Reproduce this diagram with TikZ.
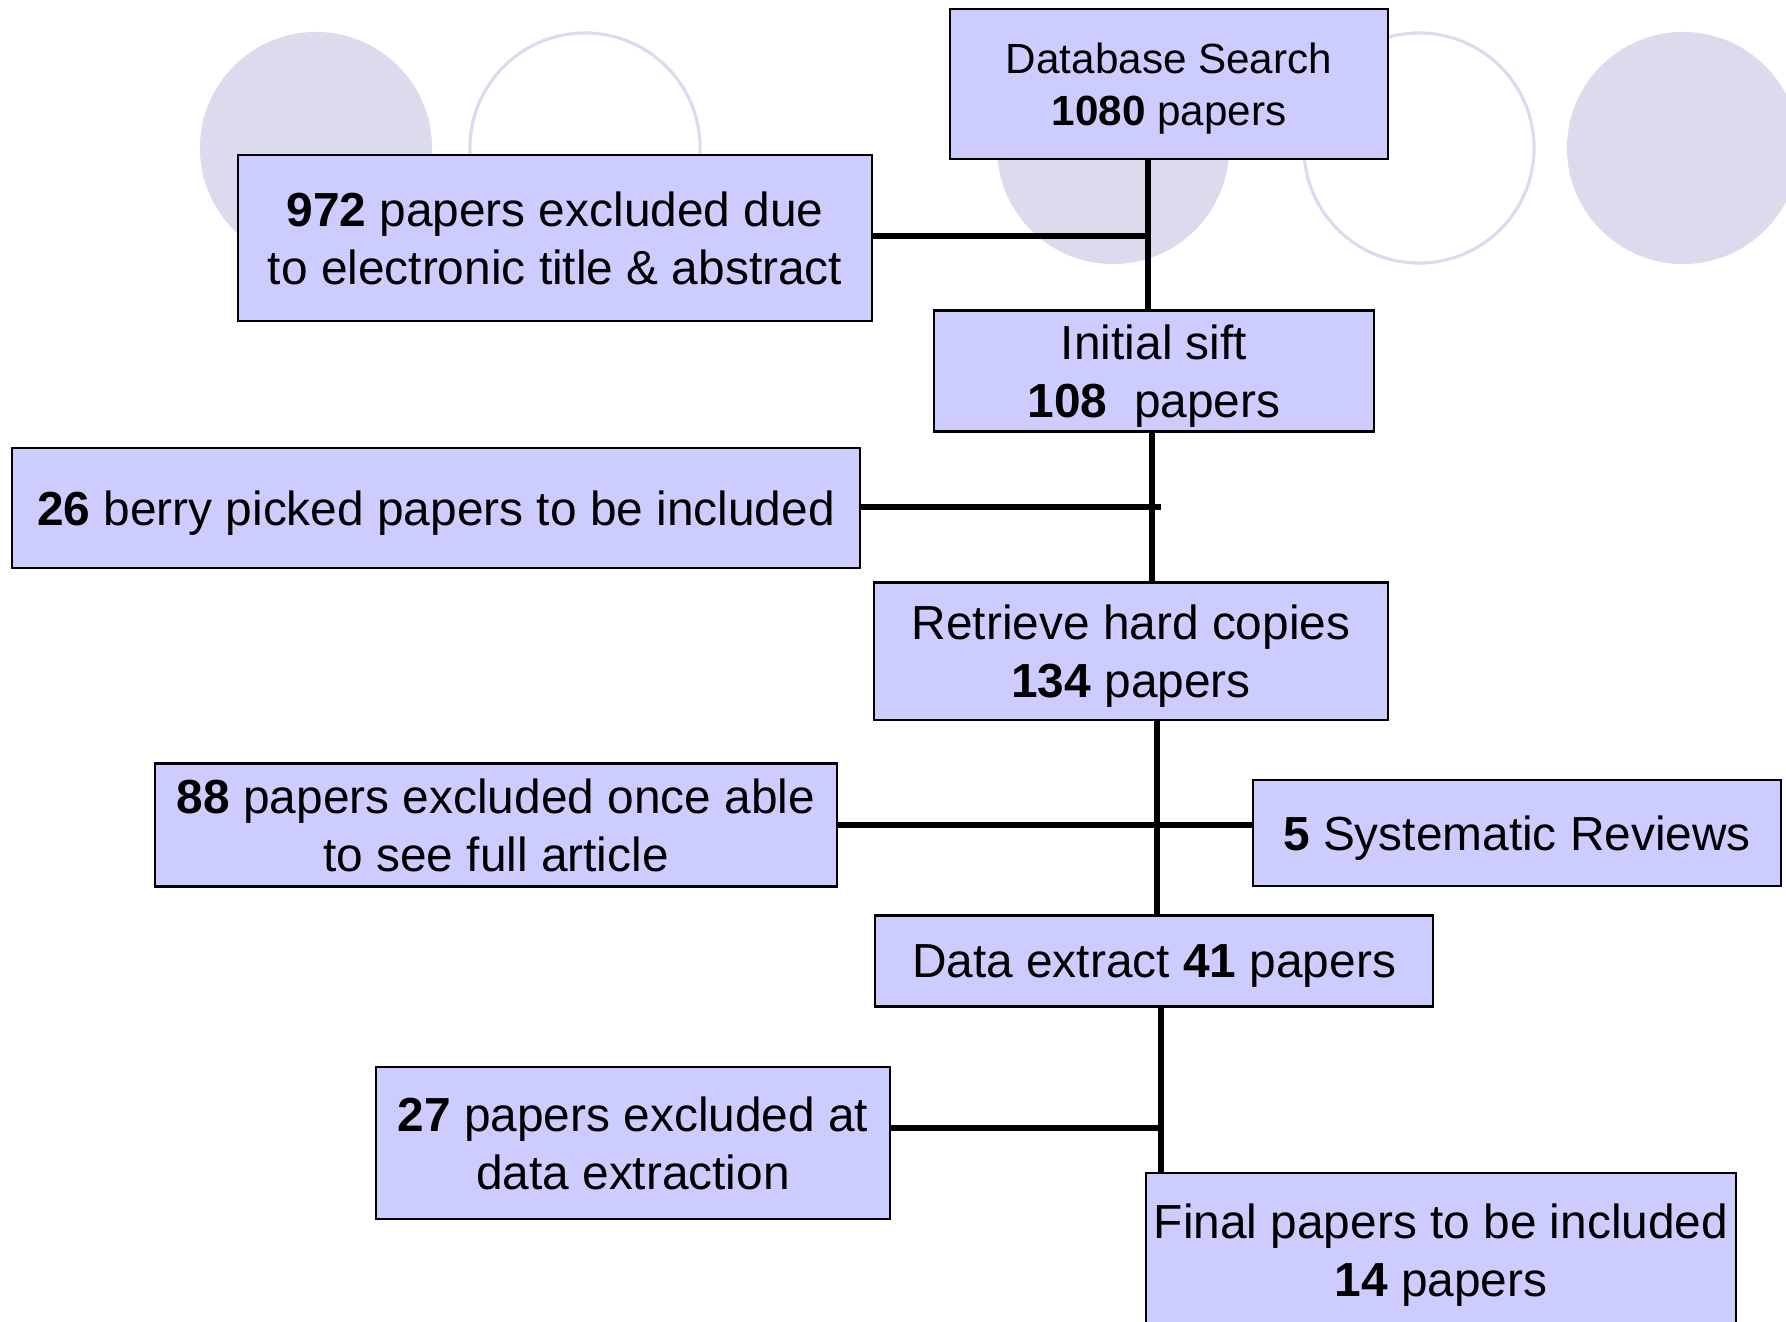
\documentclass[tikz,border=0pt]{standalone}
\usepackage{fontspec}
\setmainfont{Liberation Sans}
\definecolor{boxfill}{RGB}{204,204,255}
\definecolor{ringcol}{RGB}{220,218,237}

\begin{document}
\begin{tikzpicture}[x=0.01cm, y=-0.01cm,
	box/.style={draw, fill=boxfill, line width=0.6pt, align=center, inner sep=0pt, text depth=0pt, font=\fontsize{13.6}{16.5}\selectfont},
	link/.style={line width=1.8pt}]
	\newcommand{\RAD}{1.16cm}
	\clip (0,0) rectangle (1786,1321);
	\fill[ringcol] (316,148) circle (\RAD);
	\draw[ringcol, line width=0.9pt] (585,148) circle (1.15cm);
	\fill[ringcol] (1113,148) circle (\RAD);
	\draw[ringcol, line width=0.9pt] (1419,148) circle (1.15cm);
	\fill[ringcol] (1683,148) circle (\RAD);
	\node[box, minimum width=4.38cm, minimum height=1.5cm, font=\fontsize{12}{14.8}\selectfont](db) at (1169,84){Database Search\\\textbf{1080} papers};
	\node[box, minimum width=6.34cm, minimum height=1.66cm](ex1) at (555,238){\textbf{972} papers excluded due\\to electronic title \& abstract};
	\node[box, minimum width=4.39cm, minimum height=1.21cm](sift) at (1154,371){Initial sift\\\textbf{108}~ papers};
	\node[box, minimum width=8.48cm, minimum height=1.2cm](berry) at (436,508){\textbf{26} berry picked papers to be included};
	\node[box, minimum width=5.13cm, minimum height=1.37cm](copies) at (1131,651){Retrieve hard copies\\\textbf{134} papers};
	\node[box, minimum width=6.82cm, minimum height=1.23cm](ex2) at (496,825){\textbf{88} papers excluded once able\\to see full article};
	\node[box, minimum width=5.28cm, minimum height=1.06cm](sr) at (1517,833){\textbf{5} Systematic Reviews};
	\node[box, minimum width=5.58cm, minimum height=0.91cm](extract) at (1154,961){Data extract \textbf{41} papers};
	\node[box, minimum width=5.14cm, minimum height=1.52cm](ex3) at (633,1143){\textbf{27} papers excluded at\\data extraction};
	\node[box, minimum width=5.89cm, minimum height=1.54cm](final) at (1441,1250){Final papers to be included\\\textbf{14} papers};
	\coordinate(j1) at (1148,236);
	\coordinate(j2) at (1152,507);
	\coordinate(j3) at (1157,825);
	\coordinate(j4) at (1161,1128);
	\draw[link] (db.south -| j1) -- (sift.north -| j1);
	\draw[link] (ex1.east |- j1) -- (j1);
	\draw[link] (sift.south -| j2) -- (copies.north -| j2);
	\draw[link] (berry.east |- j2) -- ([xshift=0.09cm]j2);
	\draw[link] (copies.south -| j3) -- (extract.north -| j3);
	\draw[link] (ex2.east |- j3) -- (sr.west |- j3);
	\draw[link] (extract.south -| j4) -- (final.north -| j4);
	\draw[link] (ex3.east |- j4) -- (j4);
\end{tikzpicture}
\end{document}
